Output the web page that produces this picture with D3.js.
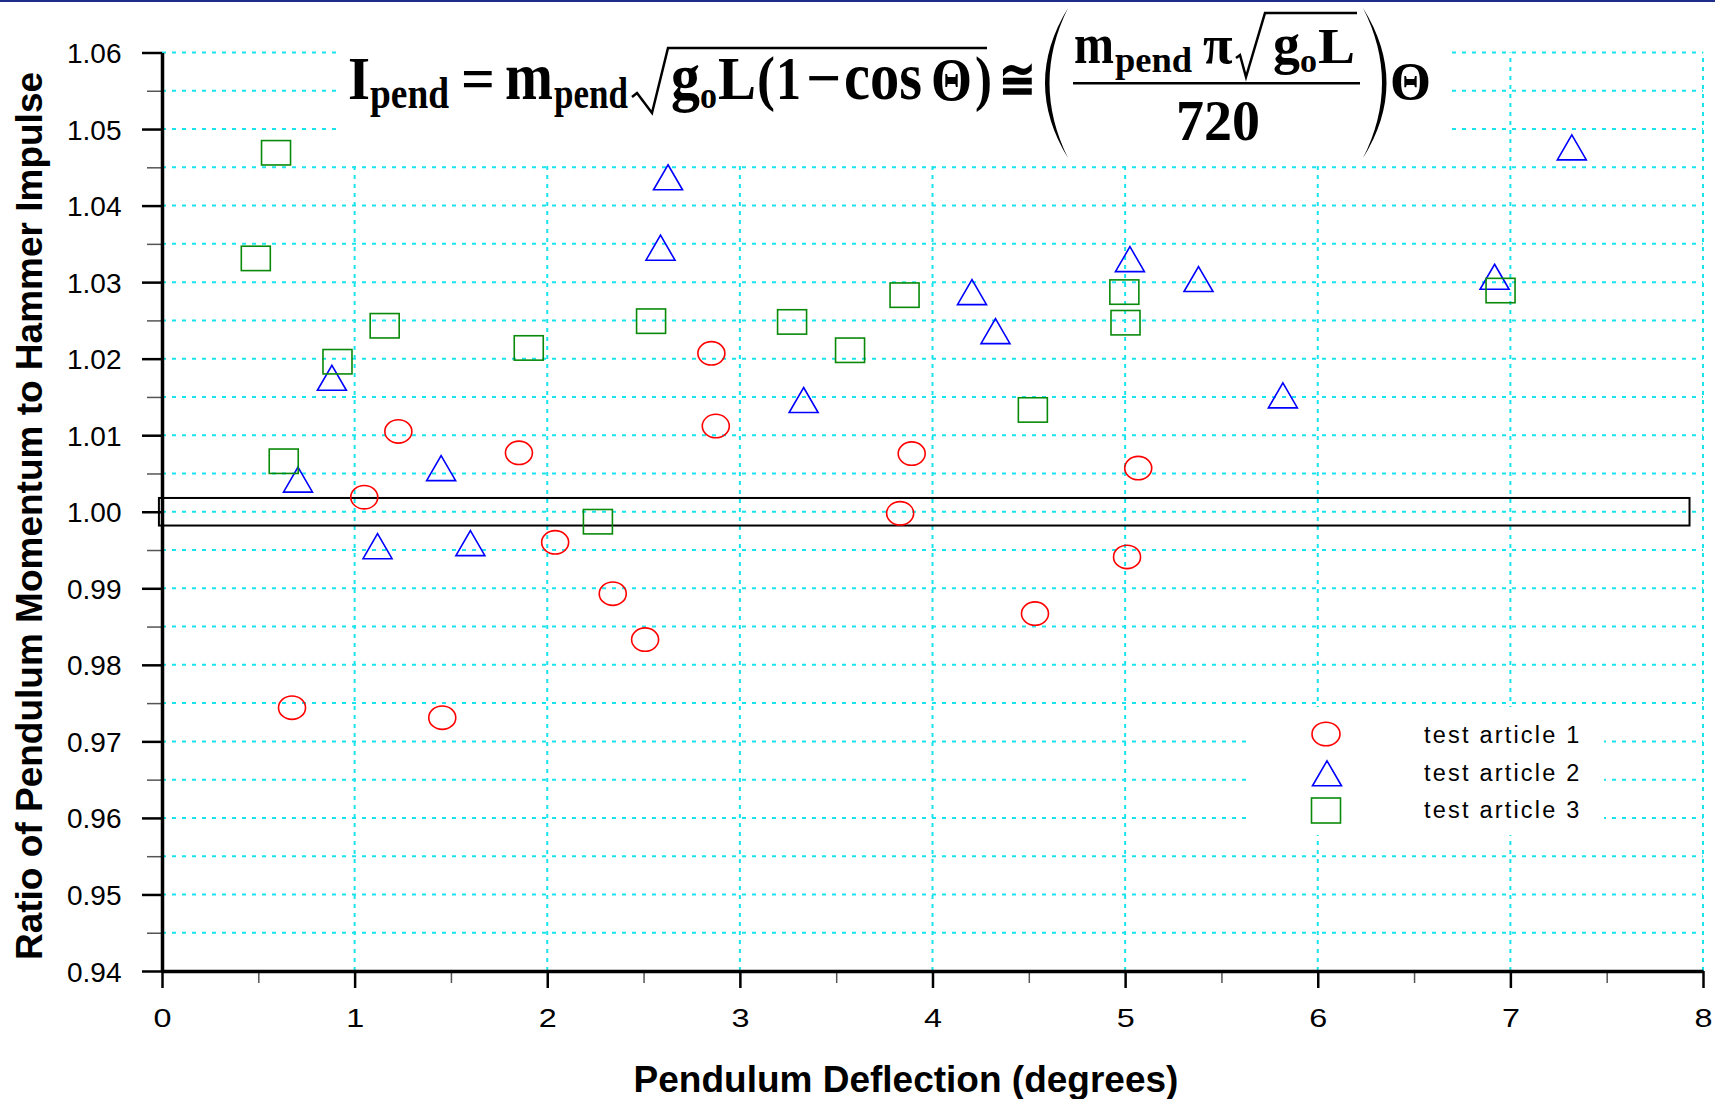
<!DOCTYPE html>
<html><head><meta charset="utf-8">
<script src="https://cdn.jsdelivr.net/npm/d3@7"></script>
<style>body{margin:0;background:#fff;} svg{display:block;}</style>
</head><body>
<script>
// ---------------- data ----------------
const seriesNames = ["test article 1", "test article 2", "test article 3"];
const series1X = [0.675, 1.050, 1.227, 1.455, 1.853, 2.041, 2.340, 2.508, 2.852, 2.875, 3.832, 3.892, 4.532, 5.010, 5.068];
const series1Y = [0.9744, 1.0019, 1.0105, 0.9731, 1.0077, 0.9960, 0.9893, 0.9833, 1.0207, 1.0112, 0.9998, 1.0076, 0.9867, 0.9941, 1.0057];
const series2X = [0.706, 0.882, 1.119, 1.449, 1.601, 2.588, 2.627, 3.331, 4.205, 4.327, 5.025, 5.381, 5.819, 6.918, 7.319];
const series2Y = [1.0042, 1.0175, 0.9955, 1.0057, 0.9959, 1.0345, 1.0437, 1.0146, 1.0287, 1.0236, 1.0330, 1.0304, 1.0152, 1.0307, 1.0476];
const series3X = [0.487, 0.592, 0.632, 0.911, 1.156, 1.904, 2.263, 2.539, 3.271, 3.572, 3.855, 4.521, 4.996, 5.002, 6.949];
const series3Y = [1.0331, 1.0469, 1.0066, 1.0196, 1.0243, 1.0214, 0.9987, 1.0249, 1.0248, 1.0211, 1.0283, 1.0133, 1.0287, 1.0247, 1.0289];
const xTickValues = [0, 1, 2, 3, 4, 5, 6, 7, 8];
const xTickLabels = ["0", "1", "2", "3", "4", "5", "6", "7", "8"];
const xMinorTicks = [0.5, 1.5, 2.5, 3.5, 4.5, 5.5, 6.5, 7.5];
const yTickValues = [0.94, 0.95, 0.96, 0.97, 0.98, 0.99, 1.00, 1.01, 1.02, 1.03, 1.04, 1.05, 1.06];
const yTickLabels = ["0.94", "0.95", "0.96", "0.97", "0.98", "0.99", "1.00", "1.01", "1.02", "1.03", "1.04", "1.05", "1.06"];
const yMinorTicks = [0.945, 0.955, 0.965, 0.975, 0.985, 0.995, 1.005, 1.015, 1.025, 1.035, 1.045, 1.055];
const bandX = [-0.016, 7.93];
const bandY = [0.9982, 1.0018];
const xTitle = "Pendulum Deflection (degrees)";
const yTitle = "Ratio of Pendulum Momentum to Hammer Impulse";

// ---------------- setup ----------------
const W = 1715, H = 1099;
const svg = d3.select("body").append("svg").attr("width", W).attr("height", H);
const x = d3.scaleLinear().domain([0, 8]).range([162, 1703]);
const y = d3.scaleLinear().domain([0.94, 1.06]).range([971, 52.5]);
const SANS = "'Liberation Sans', Arial, sans-serif";
const SERIF = "'Liberation Serif', 'Times New Roman', 'DejaVu Serif', serif";
const GRID = "#19e3ec";

svg.append("rect").attr("x", 0).attr("y", 0).attr("width", W).attr("height", 2).attr("fill", "#1e2d8a");

// grid
const grid = svg.append("g");
grid.selectAll("line.h").data(yTickValues.concat(yMinorTicks).filter(d => d > 0.941))
  .join("line").attr("x1", x(0)).attr("x2", x(8)).attr("y1", d => y(d)).attr("y2", d => y(d))
  .attr("stroke", GRID).attr("stroke-width", 2).attr("stroke-dasharray", "4,6");
grid.selectAll("line.v").data(xTickValues.filter(d => d > 0))
  .join("line").attr("x1", d => x(d)).attr("x2", d => x(d)).attr("y1", y(0.94)).attr("y2", y(1.06))
  .attr("stroke", GRID).attr("stroke-width", 2).attr("stroke-dasharray", "4,5");

// white boxes interrupting the grid (formula & legend)
svg.append("rect").attr("x", 336).attr("y", 2).attr("width", 1110).attr("height", 162).attr("fill", "#fff");
svg.append("rect").attr("x", 1249).attr("y", 707).attr("width", 355).attr("height", 128).attr("fill", "#fff");

// band around 1.00
svg.append("rect").attr("x", x(bandX[0])).attr("y", y(bandY[1]))
  .attr("width", x(bandX[1]) - x(bandX[0])).attr("height", y(bandY[0]) - y(bandY[1]))
  .attr("fill", "none").attr("stroke", "#000").attr("stroke-width", 2);

// axes
const yMinor = svg.append("g").attr("transform", `translate(${x(0)},0)`)
  .call(d3.axisLeft(y).tickValues(yMinorTicks).tickSize(15).tickSizeOuter(0).tickFormat(""));
yMinor.select(".domain").remove();
yMinor.selectAll("line").attr("stroke", "#555").attr("stroke-width", 1.5);
const xMinor = svg.append("g").attr("transform", `translate(0,${y(0.94)})`)
  .call(d3.axisBottom(x).tickValues(xMinorTicks).tickSize(12).tickSizeOuter(0).tickFormat(""));
xMinor.select(".domain").remove();
xMinor.selectAll("line").attr("stroke", "#555").attr("stroke-width", 1.5);

const yAxis = svg.append("g").attr("transform", `translate(${x(0)},0)`)
  .call(d3.axisLeft(y).tickValues(yTickValues).tickSize(20).tickSizeOuter(0).tickPadding(20)
    .tickFormat((d, i) => yTickLabels[i]));
yAxis.select(".domain").attr("stroke", "#000").attr("stroke-width", 3.5);
yAxis.selectAll(".tick line").attr("stroke", "#000").attr("stroke-width", 2.5);
yAxis.selectAll(".tick text").attr("font-family", SANS).attr("font-size", 28).attr("fill", "#000")
  .attr("dy", null).attr("y", 10).attr("x", -40.5);

const xAxis = svg.append("g").attr("transform", `translate(0,${y(0.94)})`)
  .call(d3.axisBottom(x).tickValues(xTickValues).tickSize(17).tickSizeOuter(0)
    .tickFormat((d, i) => xTickLabels[i]));
xAxis.select(".domain").attr("stroke", "#000").attr("stroke-width", 3.5);
xAxis.selectAll(".tick line").attr("stroke", "#000").attr("stroke-width", 2.5);
xAxis.selectAll(".tick text").attr("font-family", SANS).attr("font-size", 25).attr("fill", "#000")
  .attr("dy", null).attr("y", 56).attr("textLength", 18).attr("lengthAdjust", "spacingAndGlyphs");

// titles
svg.append("text").attr("x", 906).attr("y", 1092).attr("text-anchor", "middle")
  .attr("font-family", SANS).attr("font-weight", "bold").attr("font-size", 37).text(xTitle);
svg.append("text").attr("transform", "translate(41.5,516) rotate(-90)").attr("text-anchor", "middle")
  .attr("font-family", SANS).attr("font-weight", "bold").attr("font-size", 37).text(yTitle);

// markers
function triPath(cx, cy) {
  const w = 29, h = 25;
  return `M${cx},${cy - h / 2}L${cx + w / 2},${cy + h / 2}L${cx - w / 2},${cy + h / 2}Z`;
}
const s1 = series1X.map((v, i) => [v, series1Y[i]]);
const s2 = series2X.map((v, i) => [v, series2Y[i]]);
const s3 = series3X.map((v, i) => [v, series3Y[i]]);
svg.append("g").selectAll("ellipse").data(s1).join("ellipse")
  .attr("cx", d => x(d[0])).attr("cy", d => y(d[1])).attr("rx", 13.5).attr("ry", 11.7)
  .attr("fill", "none").attr("stroke", "#ff0000").attr("stroke-width", 1.6);
svg.append("g").selectAll("path").data(s2).join("path")
  .attr("d", d => triPath(x(d[0]), y(d[1])))
  .attr("fill", "none").attr("stroke", "#0000ff").attr("stroke-width", 1.6);
svg.append("g").selectAll("rect").data(s3).join("rect")
  .attr("x", d => x(d[0]) - 14.5).attr("y", d => y(d[1]) - 12.2).attr("width", 29).attr("height", 24.4)
  .attr("fill", "none").attr("stroke", "#0a8a0a").attr("stroke-width", 1.6);

// legend
const lg = svg.append("g");
lg.append("ellipse").attr("cx", 1326).attr("cy", 734).attr("rx", 14).attr("ry", 11.7)
  .attr("fill", "none").attr("stroke", "#ff0000").attr("stroke-width", 1.6);
lg.append("path").attr("d", triPath(1327, 773.3)).attr("fill", "none").attr("stroke", "#0000ff").attr("stroke-width", 1.6);
lg.append("rect").attr("x", 1311.5).attr("y", 798).attr("width", 29).attr("height", 25)
  .attr("fill", "none").attr("stroke", "#0a8a0a").attr("stroke-width", 1.6);
lg.selectAll("text").data(seriesNames).join("text")
  .attr("x", 1424).attr("y", (d, i) => [743.3, 781, 818.3][i])
  .attr("font-family", SANS).attr("font-size", 23.5).attr("letter-spacing", 2.2).attr("fill", "#000").text(d => d);

// formula: [text, x, baseline, font-size, vertical stretch]
const F = svg.append("g").attr("font-family", SERIF).attr("font-weight", "bold").attr("fill", "#000");
const pieces = [
  ["I", 348, 99.3, 56.6, 1.08], ["pend", 370, 108.3, 37.4, 1.18], ["=", 461, 99.3, 59.6, 1.04],
  ["m", 505, 99.3, 57.6, 1.16], ["pend", 554, 108.3, 35, 1.26],
  ["g", 671, 99.3, 58, 1.14], ["o", 700, 108.3, 34, 1.12], ["L", 718, 99.3, 57, 1.07],
  ["(", 757, 99.3, 54, 1.15], ["1", 776, 99.3, 50, 1.22], ["\u2212", 806, 99.3, 62, 1.0],
  ["cos", 844, 99.3, 58.5, 1.15], ["\u0398", 931, 100, 52.7, 1.16], [")", 975, 99.3, 51, 1.2],
  ["\u2245", 999, 99.3, 44, 1.3],
  ["m", 1074, 63.3, 48, 1.19], ["pend", 1115, 71.7, 36.5, 1.0], ["\u03C0", 1203, 63.3, 54, 1.03],
  ["g", 1273, 63.3, 54, 1.05], ["o", 1300, 71.7, 34, 1.0], ["L", 1318, 63.3, 55.5, 0.9],
  ["720", 1176, 140, 56, 1.02], ["\u0398", 1390, 99.3, 52.7, 1.02]
];
pieces.forEach(p => {
  F.append("text").attr("transform", `translate(${p[1]},${p[2]}) scale(1,${p[4]})`)
    .attr("font-size", p[3]).text(p[0]);
});
F.append("path").attr("d", "M632,97L637,93L652,113L668,48L987,48").attr("fill", "none")
  .attr("stroke", "#000").attr("stroke-width", 2.5).attr("stroke-linejoin", "miter");
F.append("path").attr("d", "M1236,58L1240,55L1246,77L1265,13L1357,13").attr("fill", "none")
  .attr("stroke", "#000").attr("stroke-width", 2.5);
F.append("line").attr("x1", 1073).attr("x2", 1360).attr("y1", 83.3).attr("y2", 83.3)
  .attr("stroke", "#000").attr("stroke-width", 2.5);
F.append("path").attr("d", "M1068,8Q1022,83 1068,158Q1031,83 1068,8Z");
F.append("path").attr("d", "M1363,8Q1410,83 1363,158Q1401,83 1363,8Z");
</script>
</body></html>
